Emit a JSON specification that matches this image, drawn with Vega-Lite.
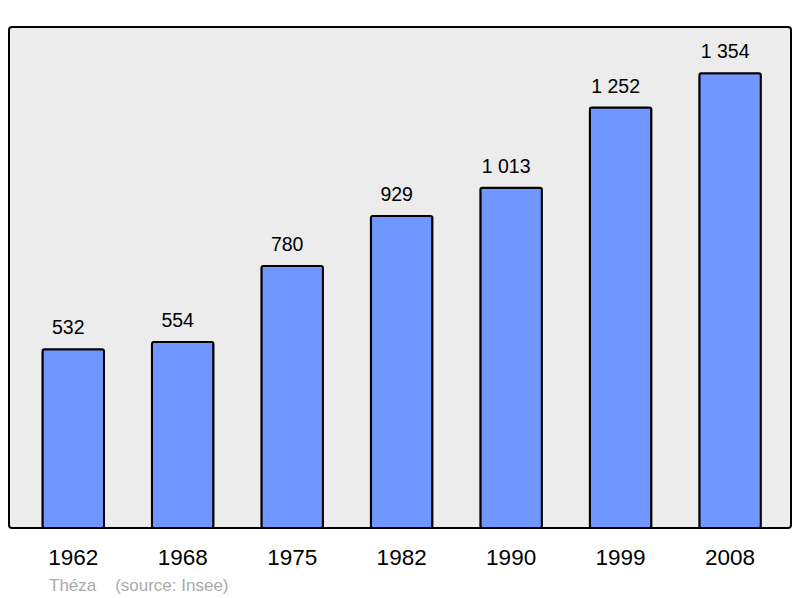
{
  "$schema": "https://vega.github.io/schema/vega-lite/v6.json",
  "autosize": {"type": "none"},
  "width": 782,
  "height": 501,
  "padding": {"left": 9, "top": 27, "right": 9, "bottom": 70},
  "background": "white",
  "config": {
    "font": "Liberation Sans",
    "view": {"fill": "#ececec", "stroke": "black", "strokeWidth": 2, "cornerRadius": 3}
  },
  "title": {
    "text": "Théza\u00a0\u00a0\u00a0\u00a0(source: Insee)",
    "orient": "bottom",
    "anchor": "start",
    "dx": 40,
    "offset": 9,
    "fontSize": 17,
    "fontWeight": "normal",
    "color": "#aaaaaa",
    "font": "Liberation Sans"
  },
  "data": {
    "values": [
      {"year": "1962", "pop": 532, "label": "532"},
      {"year": "1968", "pop": 554, "label": "554"},
      {"year": "1975", "pop": 780, "label": "780"},
      {"year": "1982", "pop": 929, "label": "929"},
      {"year": "1990", "pop": 1013, "label": "1 013"},
      {"year": "1999", "pop": 1252, "label": "1 252"},
      {"year": "2008", "pop": 1354, "label": "1 354"}
    ]
  },
  "encoding": {
    "x": {
      "field": "year",
      "type": "ordinal",
      "sort": null,
      "scale": {"paddingInner": 0.438, "paddingOuter": 0.2905, "align": 0.526},
      "axis": {
        "title": null,
        "domain": false,
        "ticks": false,
        "labelAngle": 0,
        "labelFontSize": 22.5,
        "labelColor": "black",
        "labelPadding": 18,
        "labelFont": "Liberation Sans"
      }
    },
    "y": {
      "field": "pop",
      "type": "quantitative",
      "scale": {"domain": [0, 1492], "nice": false, "zero": true},
      "axis": null
    }
  },
  "layer": [
    {
      "mark": {"type": "bar", "fill": "#7096ff", "stroke": "black", "strokeWidth": 2, "cornerRadius": 2}
    },
    {
      "mark": {"type": "text", "baseline": "alphabetic", "dy": -15, "dx": -5, "fontSize": 19.5, "color": "black", "font": "Liberation Sans"},
      "encoding": {"text": {"field": "label"}}
    }
  ]
}
